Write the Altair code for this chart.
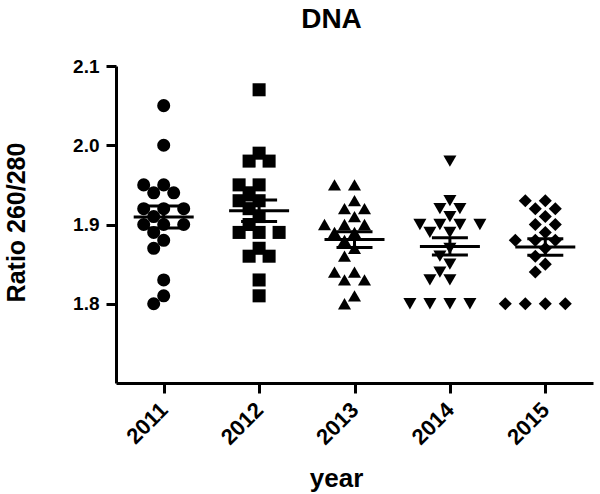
import altair as alt
import pandas as pd
import numpy as np

years = [2011, 2012, 2013, 2014, 2015]
shapes = ["circle", "square", "triangle-up", "triangle-down", "diamond"]

v2011 = [2.05, 2.00, 1.95, 1.95, 1.94, 1.94, 1.92, 1.92, 1.92, 1.91, 1.90, 1.90,
         1.90, 1.89, 1.88, 1.87, 1.83, 1.81, 1.80]
v2012 = [2.07, 1.99, 1.98, 1.98, 1.95, 1.95, 1.94, 1.93, 1.93, 1.92, 1.91, 1.90,
         1.89, 1.89, 1.89, 1.87, 1.86, 1.86, 1.83, 1.81]
v2013 = [1.95, 1.95, 1.93, 1.92, 1.92, 1.91, 1.90, 1.90, 1.90, 1.89, 1.89, 1.88,
         1.87, 1.86, 1.84, 1.84, 1.83, 1.83, 1.81, 1.80]
v2014 = [1.98, 1.93, 1.92, 1.92, 1.91, 1.90, 1.90, 1.90, 1.90, 1.89, 1.89, 1.87,
         1.86, 1.85, 1.84, 1.83, 1.83, 1.80, 1.80, 1.80, 1.80]
v2015 = [1.93, 1.93, 1.92, 1.92, 1.91, 1.90, 1.90, 1.89, 1.88, 1.88, 1.88, 1.87,
         1.86, 1.85, 1.84, 1.80, 1.80, 1.80, 1.80]
series = [v2011, v2012, v2013, v2014, v2015]

W, H = 477, 317
Y0, Y1 = 1.7, 2.1
px_per_unit = H / (Y1 - Y0)
band_px = W / len(years)


def swarm(vals, step=10.0, mind=10.5):
    placed = []
    offs = [0.0] * len(vals)
    order = sorted(range(len(vals)), key=lambda i: -vals[i])
    for i in order:
        yv = vals[i] * px_per_unit
        k = 0
        while True:
            cands = [0.0] if k == 0 else [-k * step, k * step]
            ok = None
            for c in cands:
                if all((c - px) ** 2 + (yv - py) ** 2 >= mind ** 2 for px, py in placed):
                    ok = c
                    break
            if ok is not None:
                placed.append((ok, yv))
                offs[i] = ok
                break
            k += 1
    return offs


rows = []
stats = []
for yr, shp, vals in zip(years, shapes, series):
    offs = swarm(vals)
    for v, o in zip(vals, offs):
        rows.append({"year": yr, "xpos": yr + o / band_px, "value": v, "shape": shp})
    a = np.array(vals)
    m = a.mean()
    se = a.std(ddof=1) / np.sqrt(len(a))
    stats.append({"year": yr, "mean": m, "lo": m - se, "hi": m + se})

df = pd.DataFrame(rows)
sf = pd.DataFrame(stats)

xscale = alt.Scale(domain=[2010.5, 2015.5], nice=False, zero=False)
yscale = alt.Scale(domain=[Y0, Y1], nice=False, zero=False)

FONT = "Liberation Sans"

xaxis = alt.Axis(values=years, format="d", labelAngle=-45, labelAlign="right",
                 labelBaseline="middle", labelFontSize=22,
                 labelFontWeight="bold", labelFont=FONT, labelColor="black",
                 tickSize=10, tickWidth=3, tickColor="black", domainWidth=3,
                 domainColor="black", grid=False, labelPadding=13,
                 title="year", titleFontSize=26, titleFont=FONT, titleFontWeight="bold",
                 titleColor="black", titleX=220, titleY=95, titleBaseline="middle",
                 titleAlign="center")
yaxis = alt.Axis(values=[1.8, 1.9, 2.0, 2.1], format=".1f", labelFontSize=19,
                 labelFontWeight="bold", labelFont=FONT, labelColor="black",
                 tickSize=10, tickWidth=3, tickColor="black", domainWidth=3,
                 domainColor="black", grid=False, labelPadding=7,
                 title="Ratio 260/280", titleFontSize=25, titleFont=FONT,
                 titleFontWeight="bold", titleColor="black", titleX=-100, titleY=156,
                 titleAngle=270, titleAlign="center", titleBaseline="middle")

points = alt.Chart(df).mark_point(filled=True, color="black", opacity=1, size=170).encode(
    x=alt.X("xpos:Q", scale=xscale, axis=xaxis, title="year"),
    y=alt.Y("value:Q", scale=yscale, axis=yaxis, title="Ratio 260/280"),
    shape=alt.Shape("shape:N", scale=None, legend=None),
)

base = alt.Chart(sf)
xe = alt.X("year:Q", scale=xscale, axis=xaxis, title="year")
mean_line = base.mark_tick(orient="horizontal", size=60, thickness=3, color="black",
                           opacity=1).encode(
    x=xe, y=alt.Y("mean:Q", scale=yscale, axis=yaxis, title="Ratio 260/280"))
vert = base.mark_rule(strokeWidth=3, color="black").encode(
    x=xe, y=alt.Y("lo:Q", scale=yscale, axis=yaxis, title="Ratio 260/280"), y2="hi:Q")
cap_lo = base.mark_tick(orient="horizontal", size=36, thickness=3, color="black",
                        opacity=1).encode(
    x=xe, y=alt.Y("lo:Q", scale=yscale, axis=yaxis, title="Ratio 260/280"))
cap_hi = base.mark_tick(orient="horizontal", size=36, thickness=3, color="black",
                        opacity=1).encode(
    x=xe, y=alt.Y("hi:Q", scale=yscale, axis=yaxis, title="Ratio 260/280"))

chart = alt.layer(points, mean_line, vert, cap_lo, cap_hi).properties(
    width=W, height=H,
    title=alt.TitleParams("DNA", fontSize=28, font=FONT, fontWeight="bold", color="black",
                          anchor="middle", dx=-23, offset=23),
    autosize=alt.AutoSizeParams(type="none"),
    padding={"left": 116, "top": 66, "right": 7, "bottom": 111},
    background="white",
).configure_view(stroke=None).configure_axis(
    labelFont=FONT, labelFontWeight="bold", labelColor="black", titleFont=FONT,
    titleFontWeight="bold", titleColor="black"
).configure_axisX(labelFontSize=22, titleFontSize=26).configure_axisY(
    labelFontSize=19, titleFontSize=25)

chart.save("out.html", embed_options={"renderer": "svg", "actions": False})
